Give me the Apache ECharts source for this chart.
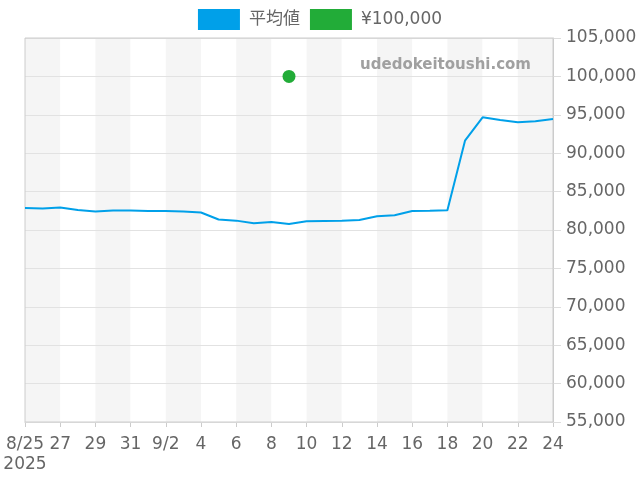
<!DOCTYPE html>
<html>
<head>
<meta charset="utf-8">
<script src="https://cdn.jsdelivr.net/npm/echarts@6/dist/echarts.min.js"></script>
<style>html,body{margin:0;padding:0;background:#fff}#c{width:640px;height:480px}</style>
</head>
<body>
<div id="c"></div>
<script>
const categories = ['8/25','8/26','8/27','8/28','8/29','8/30','8/31','9/1','9/2','9/3','9/4','9/5','9/6','9/7','9/8','9/9','9/10','9/11','9/12','9/13','9/14','9/15','9/16','9/17','9/18','9/19','9/20','9/21','9/22','9/23','9/24'];
const averageValues = [82860,82800,82930,82600,82400,82540,82540,82470,82470,82400,82280,81370,81220,80870,81040,80780,81130,81170,81210,81300,81780,81910,82470,82510,82560,91630,94670,94320,94020,94150,94450];
const pointValues = [null,null,null,null,null,null,null,null,null,null,null,null,null,null,null,100000,null,null,null,null,null,null,null,null,null,null,null,null,null,null,null];
const seriesNames = ['平均値','¥100,000'];
const yearLabel = '2025';

const FONT = 'DejaVu Sans, Noto Sans CJK JP, sans-serif';
const chart = echarts.init(document.getElementById('c'));
chart.setOption({
  animation: false,
  textStyle: {fontFamily: FONT},
  legend: {
    top: 4, left: 'center',
    itemWidth: 42, itemHeight: 21, itemGap: 10,
    icon: 'rect',
    textStyle: {fontSize: 17, color: '#666', fontFamily: FONT, padding: [0, 0, 0, 4]},
    data: seriesNames
  },
  grid: {left: 25, right: 87, top: 38, bottom: 58, show: true, borderColor: '#ccc', borderWidth: 1, z: 3},
  graphic: [{
    type: 'text', z: 100,
    style: {x: 531, y: 65, text: 'udedokeitoushi.com', fill: '#a0a0a0', font: 'bold 15px DejaVu Sans', textAlign: 'right', textVerticalAlign: 'middle'}
  }],
  xAxis: {
    type: 'category',
    data: categories,
    boundaryGap: false,
    z: 1,
    axisLine: {lineStyle: {color: '#ccc'}},
    axisTick: {show: true, interval: 1, length: 5, lineStyle: {color: '#ccc'}},
    axisLabel: {
      interval: 1, fontSize: 17, color: '#666', margin: 13, lineHeight: 20,
      formatter: function (v, i) {
        const parts = v.split('/');
        if (i === 0) return v + '\n' + yearLabel;
        if (parseInt(parts[1], 10) <= 2) return v;
        return parts[1];
      }
    },
    splitArea: {show: true, interval: 1, areaStyle: {color: ['#f5f5f5', '#ffffff']}},
    splitLine: {show: false}
  },
  yAxis: {
    type: 'value', position: 'right',
    min: 55000, max: 105000, interval: 5000,
    z: 2,
    axisLine: {show: true, lineStyle: {color: '#ccc'}},
    axisTick: {show: true, length: 8, lineStyle: {color: '#ddd'}},
    axisLabel: {fontSize: 17, color: '#666', margin: 13,
      formatter: v => v.toLocaleString('en-US')},
    splitLine: {show: true, lineStyle: {color: '#e2e2e2'}}
  },
  series: [
    {name: seriesNames[0], type: 'line', data: averageValues, showSymbol: false, symbol: 'none', z: 5,
     lineStyle: {width: 2, color: '#00a0e9'}, itemStyle: {color: '#00a0e9'}},
    {name: seriesNames[1], type: 'scatter', data: pointValues, symbolSize: 13, z: 6,
     itemStyle: {color: '#22ac38', opacity: 1}}
  ]
});
</script>
</body>
</html>
